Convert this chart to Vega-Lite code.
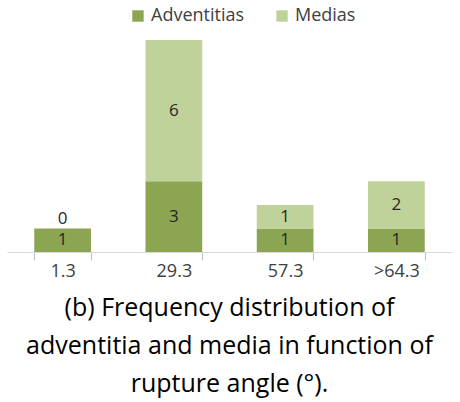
{
  "$schema": "https://vega.github.io/schema/vega-lite/v6.json",
  "width": 445,
  "height": 212,
  "autosize": {"type": "none"},
  "padding": {"left": 7, "top": 40, "right": 8, "bottom": 150},
  "background": "white",
  "config": {"view": {"stroke": null}, "font": "Open Sans"},
  "title": {
    "text": ["(b) Frequency distribution of", "adventitia and media in function of", "rupture angle (°)."],
    "orient": "bottom",
    "anchor": "middle",
    "font": "Open Sans",
    "fontSize": 25,
    "fontWeight": "normal",
    "color": "#000000",
    "lineHeight": 38,
    "offset": 16
  },
  "data": {
    "values": [
      {"angle": "1.3", "tissue": "Adventitias", "order": 1, "v": 1},
      {"angle": "1.3", "tissue": "Medias", "order": 2, "v": 0},
      {"angle": "29.3", "tissue": "Adventitias", "order": 1, "v": 3},
      {"angle": "29.3", "tissue": "Medias", "order": 2, "v": 6},
      {"angle": "57.3", "tissue": "Adventitias", "order": 1, "v": 1},
      {"angle": "57.3", "tissue": "Medias", "order": 2, "v": 1},
      {"angle": ">64.3", "tissue": "Adventitias", "order": 1, "v": 1},
      {"angle": ">64.3", "tissue": "Medias", "order": 2, "v": 2}
    ]
  },
  "transform": [
    {"stack": "v", "groupby": ["angle"], "sort": [{"field": "order", "order": "ascending"}], "as": ["v0", "v1"]},
    {"calculate": "(datum.v0 + datum.v1) / 2", "as": "vmid"}
  ],
  "encoding": {
    "x": {
      "field": "angle",
      "type": "nominal",
      "sort": ["1.3", "29.3", "57.3", ">64.3"],
      "scale": {"paddingInner": 0.49, "paddingOuter": 0.245},
      "axis": {
        "title": null,
        "labelAngle": 0,
        "labelFont": "Open Sans",
        "labelFontSize": 18,
        "labelColor": "#404040",
        "labelPadding": 2,
        "domainColor": "#d9d9d9",
        "domainWidth": 1,
        "tickColor": "#bfbfbf",
        "tickSize": 8,
        "tickBand": "extent"
      }
    }
  },
  "layer": [
    {
      "mark": {"type": "bar"},
      "encoding": {
        "y": {"field": "v1", "type": "quantitative", "scale": {"domain": [0, 9], "nice": false}, "axis": null},
        "y2": {"field": "v0"},
        "color": {
          "field": "tissue",
          "type": "nominal",
          "scale": {"domain": ["Adventitias", "Medias"], "range": ["#8ba552", "#bfd29a"]},
          "legend": {
            "title": null,
            "orient": "none",
            "legendX": 122,
            "legendY": -33,
            "direction": "horizontal",
            "symbolType": "square",
            "symbolSize": 130,
            "symbolStrokeWidth": 0,
            "labelFont": "Open Sans",
            "labelFontSize": 18,
            "labelOffset": 4,
            "labelColor": "#404040",
            "columnPadding": 28,
            "symbolOffset": 0
          }
        }
      }
    },
    {
      "transform": [{"filter": "datum.v > 0"}],
      "mark": {"type": "text", "baseline": "middle", "align": "center", "font": "Open Sans", "fontSize": 17, "color": "#262626"},
      "encoding": {
        "y": {"field": "vmid", "type": "quantitative"},
        "text": {"field": "v", "type": "quantitative"}
      }
    },
    {
      "transform": [{"filter": "datum.v == 0"}],
      "mark": {"type": "text", "baseline": "bottom", "align": "center", "font": "Open Sans", "fontSize": 17, "color": "#262626", "dy": 0},
      "encoding": {
        "y": {"field": "v1", "type": "quantitative"},
        "text": {"field": "v", "type": "quantitative"}
      }
    }
  ]
}
